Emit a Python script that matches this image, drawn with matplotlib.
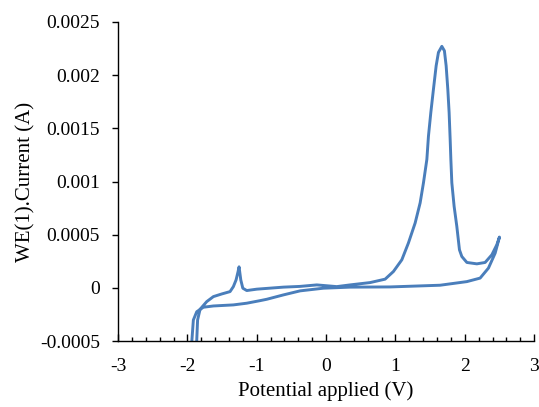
import numpy as np
import matplotlib
matplotlib.use("Agg")
import matplotlib.pyplot as plt
from matplotlib.ticker import MultipleLocator, FuncFormatter

# potential (V) and current (A), one continuous scan
# forward sweep (lower branch) up to the 2.5 V vertex
fwd_potential = [-1.940, -1.914, -1.865, -1.770, -1.625, -1.337, -1.144, -0.952, -0.855, -0.616,
                 -0.375, -0.039, 0.346, 0.923, 1.644, 2.030, 2.221, 2.341, 2.438, 2.500]
fwd_current = [-0.000538, -0.000302, -0.000224, -0.000182, -0.000170, -0.000160, -0.000144,
               -0.000120, -0.000107, -0.000066, -0.000028, -0.000003, 0.000007, 0.000009,
               0.000025, 0.000059, 0.000092, 0.000186, 0.000327, 0.000478]

# return sweep with the big peak and the small spike near -1.25 V
rev_potential = [2.462, 2.390, 2.293, 2.174, 2.030, 1.957, 1.923, 1.885, 1.846, 1.813, 1.799,
                 1.789, 1.774, 1.755, 1.731, 1.706, 1.669, 1.620, 1.587, 1.548, 1.510, 1.476,
                 1.453, 1.404, 1.356, 1.284, 1.187, 1.092, 0.971, 0.851, 0.635, 0.346, 0.154,
                 -0.134, -0.375, -0.616, -0.999, -1.144, -1.201, -1.230, -1.255, -1.269,
                 -1.298, -1.337, -1.385, -1.504, -1.625, -1.721, -1.817, -1.853, -1.868]
rev_current = [0.000406, 0.000311, 0.000239, 0.000226, 0.000239, 0.000295, 0.000358, 0.000578,
               0.000767, 0.000988, 0.001208, 0.001396, 0.001648, 0.001868, 0.002088, 0.002229,
               0.002271, 0.002214, 0.002088, 0.001868, 0.001648, 0.001427, 0.001208, 0.000988,
               0.000799, 0.000610, 0.000422, 0.000264, 0.000154, 0.000082, 0.000050, 0.000028,
               0.000012, 0.000028, 0.000014, 0.000007, -0.000012, -0.000025, -0.000003,
               0.000075, 0.000198, 0.000154, 0.000075, 0.000012, -0.000035, -0.000057,
               -0.000082, -0.000129, -0.000201, -0.000302, -0.000538]

x_ticks = [-3, -2, -1, 0, 1, 2, 3]
y_ticks = [-0.0005, 0, 0.0005, 0.001, 0.0015, 0.002, 0.0025]

plt.rcParams['font.family'] = ['Liberation Serif', 'DejaVu Serif']
plt.rcParams['axes.unicode_minus'] = False

fig = plt.figure(figsize=(5.39, 4.07), dpi=100)
ax = fig.add_axes([0.219, 0.162, 0.772, 0.784])

potential = fwd_potential + rev_potential
current = fwd_current + rev_current
ax.plot(potential, current, color='#4a7ebb', lw=2.1, solid_joinstyle='round',
        solid_capstyle='round')

ax.set_xlim(-3, 3)
ax.set_ylim(-0.0005, 0.0025)
ax.set_xticks(x_ticks)
ax.set_yticks(y_ticks)
ax.xaxis.set_minor_locator(MultipleLocator(0.2))
ax.yaxis.set_major_formatter(FuncFormatter(lambda v, p: '0' if abs(v) < 1e-12 else f'{v:g}'))
ax.xaxis.set_major_formatter(FuncFormatter(lambda v, p: f'{v:g}'))

ax.spines['top'].set_visible(False)
ax.spines['right'].set_visible(False)
for s in ('left', 'bottom'):
    ax.spines[s].set_linewidth(1.0)

ax.tick_params(axis='x', which='major', direction='in', length=5, width=1, labelsize=14, pad=12)
ax.tick_params(axis='x', which='minor', direction='in', length=3, width=1)
ax.tick_params(axis='y', which='major', direction='out', length=4, width=1, labelsize=14, pad=9)

ax.set_xlabel('Potential applied (V)', fontsize=15, labelpad=5)
ax.set_ylabel('WE(1).Current (A)', fontsize=15, labelpad=3)

fig.savefig('out.png', dpi=100)
